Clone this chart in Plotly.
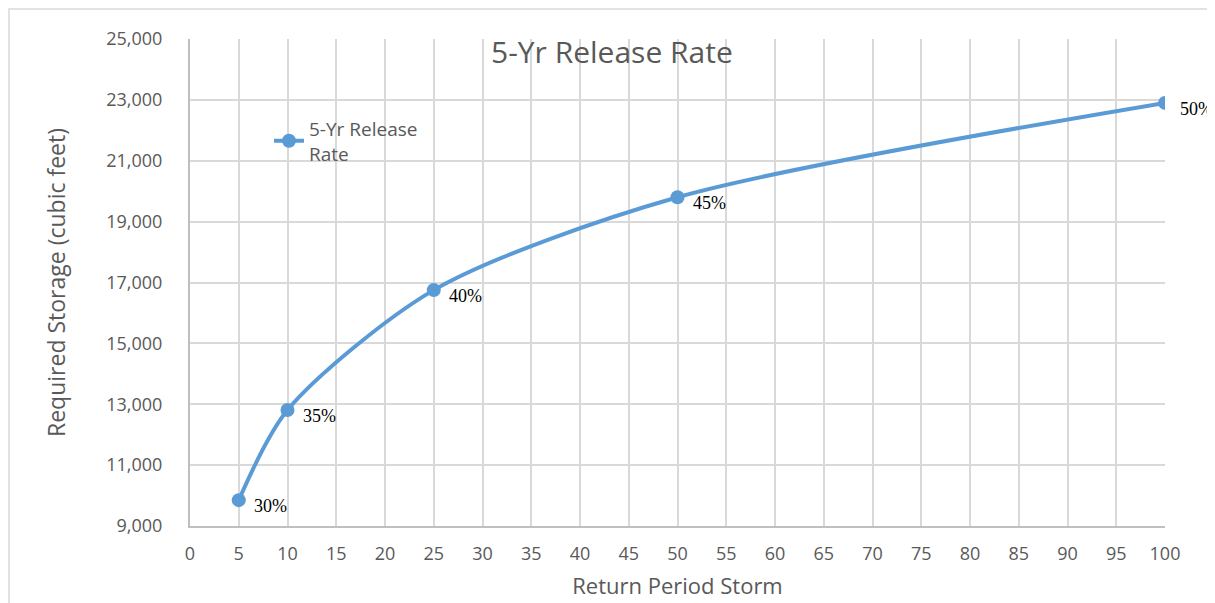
import plotly.graph_objects as go

return_period = [5, 10, 25, 50, 100]
storage = [9850, 12810, 16750, 19800, 22900]
pct_labels = ["30%", "35%", "40%", "45%", "50%"]
x_ticks = list(range(0, 101, 5))
y_ticks = list(range(9000, 25001, 2000))

fig = go.Figure()
fig.add_trace(go.Scatter(
    x=return_period, y=storage, mode="lines+markers",
    name="5-Yr Release<br>Rate",
    line=dict(color="#5B9BD5", width=4, shape="spline", smoothing=0.8),
    marker=dict(color="#5B9BD5", size=14),
))

for xv, yv, t in zip(return_period, storage, pct_labels):
    fig.add_annotation(x=xv, y=yv, text=t, showarrow=False, xanchor="left",
                       yanchor="middle", xshift=13, yshift=-6,
                       font=dict(family="Liberation Serif", size=18, color="#000000"))

# page body adds an 8px offset; plot area spans 190..1165 x 39..526 on screen
fig.add_annotation(x=(612 - 190) / 975, y=1 - (51 - 39) / 487, xref="paper", yref="paper",
                   text="5-Yr Release Rate", showarrow=False, xanchor="center", yanchor="middle",
                   font=dict(family="Open Sans", size=30, color="#595959"))

fig.add_shape(type="rect", xref="paper", yref="paper",
              x0=-181 / 975, x1=(1212 - 190) / 975, y0=-100 / 487, y1=1 + 30 / 487,
              line=dict(color="#d9d9d9", width=1.5), layer="below")

fig.update_layout(
    width=1207, height=595,
    margin=dict(l=182, r=50, t=31, b=77),
    paper_bgcolor="white", plot_bgcolor="white",
    font=dict(family="Open Sans", color="#595959", size=18),
    showlegend=True,
    legend=dict(x=0.081, y=0.855, xanchor="left", yanchor="top",
                bgcolor="rgba(0,0,0,0)", font=dict(size=19, color="#595959")),
    xaxis=dict(range=[0, 100], tickmode="array", tickvals=x_ticks,
               showgrid=True, gridcolor="#d9d9d9", gridwidth=1.5,
               showline=True, linecolor="#bfbfbf", linewidth=2,
               ticks="", zeroline=False, ticklabelstandoff=10, automargin=False,
               tickfont=dict(size=18),
               title=dict(text="Return Period Storm", font=dict(size=22), standoff=15)),
    yaxis=dict(range=[9000, 25000], tickmode="array", tickvals=y_ticks,
               tickformat=",d", showgrid=True, gridcolor="#d9d9d9", gridwidth=1.5,
               showline=True, linecolor="#bfbfbf", linewidth=2,
               ticks="", zeroline=False, ticklabelstandoff=22, automargin=False,
               tickfont=dict(size=18),
               title=dict(text="Required Storage (cubic feet)", font=dict(size=23), standoff=34)),
)

fig.write_html("out.html")
